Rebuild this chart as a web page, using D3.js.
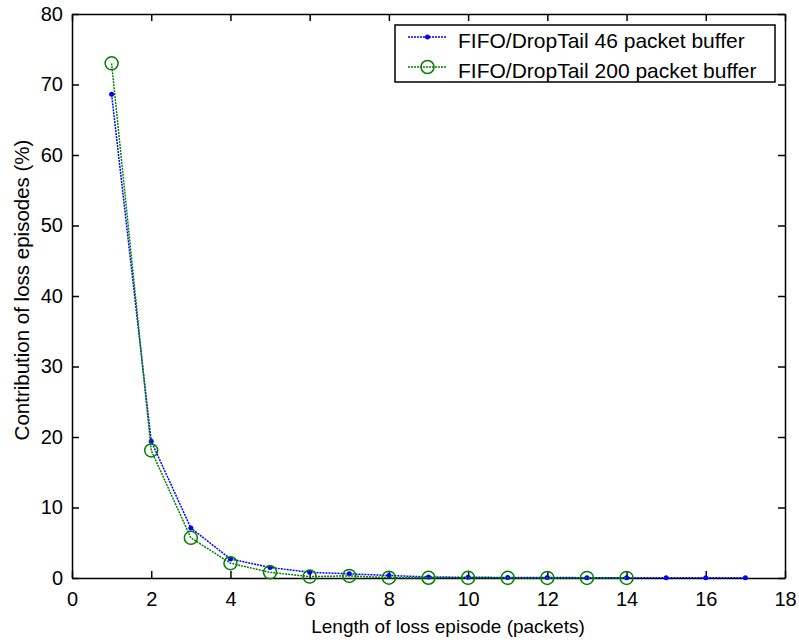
<!DOCTYPE html>
<html><head><meta charset="utf-8">
<script src="https://cdn.jsdelivr.net/npm/d3@7"></script>
<style>body{margin:0;background:#fff}svg{display:block}text{font-family:"Liberation Sans",Arial,sans-serif;fill:#000}</style>
</head><body><svg id="c" width="799" height="644"></svg>
<script>
const xTicks = [0,2,4,6,8,10,12,14,16,18];
const yTicks = [0,10,20,30,40,50,60,70,80];
const lengths46 = [1,2,3,4,5,6,7,8,9,10,11,12,13,14,15,16,17];
const values46 = [68.6,19.4,7.1,2.7,1.5,0.8,0.6,0.35,0.15,0.1,0.08,0.06,0.05,0.04,0.03,0.02,0.02];
const lengths200 = [1,2,3,4,5,6,7,8,9,10,11,12,13,14];
const values200 = [73.0,18.1,5.7,2.1,0.8,0.2,0.3,0.05,0.03,0.02,0.02,0.01,0.01,0.01];
const seriesNames = ["FIFO/DropTail 46 packet buffer","FIFO/DropTail 200 packet buffer"];
const xLabel = "Length of loss episode (packets)";
const yLabel = "Contribution of loss episodes (%)";

const svg = d3.select("#c");
const L=72,R=785,T=14,B=578;
const x = d3.scaleLinear().domain([0,18]).range([L,R]);
const y = d3.scaleLinear().domain([0,80]).range([B,T]);
const tl=7;
const g = svg.append("g");
const ax = g.append("g").attr("transform",`translate(0,${B})`).call(d3.axisBottom(x).tickValues(xTicks).tickSizeInner(-tl).tickSizeOuter(0).tickPadding(14));
const axT = g.append("g").attr("transform",`translate(0,${T})`).call(d3.axisTop(x).tickValues(xTicks).tickSizeInner(-tl).tickSizeOuter(0).tickFormat(""));
const ay = g.append("g").attr("transform",`translate(${L},0)`).call(d3.axisLeft(y).tickValues(yTicks).tickSizeInner(-tl).tickSizeOuter(0).tickPadding(9));
const ayR = g.append("g").attr("transform",`translate(${R},0)`).call(d3.axisRight(y).tickValues(yTicks).tickSizeInner(-tl).tickSizeOuter(0).tickFormat(""));
[ax,axT,ay,ayR].forEach(a=>{a.selectAll("path,line").attr("stroke","#000").attr("stroke-width",1.5);a.selectAll("text").style("font-size","20px").attr("font-family",null);});
ax.selectAll("text").attr("dy","0.71em");

const line = d3.line().x(d=>x(d[0])).y(d=>y(d[1]));
const d46 = lengths46.map((l,i)=>[l,values46[i]]);
const d200 = lengths200.map((l,i)=>[l,values200[i]]);
g.append("path").datum(d46).attr("d",line).attr("fill","none").attr("stroke","#0000ff").attr("stroke-width",1.5).attr("stroke-dasharray","2,1");
g.selectAll(".m46").data(d46).enter().append("circle").attr("cx",d=>x(d[0])).attr("cy",d=>y(d[1])).attr("r",2.5).attr("fill","#0000ff");
g.append("path").datum(d200).attr("d",line).attr("fill","none").attr("stroke","#008000").attr("stroke-width",1.5).attr("stroke-dasharray","2,1");
g.selectAll(".m200").data(d200).enter().append("circle").attr("cx",d=>x(d[0])).attr("cy",d=>y(d[1])).attr("r",6.5).attr("fill","none").attr("stroke","#008000").attr("stroke-width",1.5);

svg.append("text").attr("x",448).attr("y",633).attr("text-anchor","middle").style("font-size","19px").text(xLabel);
svg.append("text").attr("transform",`translate(29,290) rotate(-90)`).attr("text-anchor","middle").style("font-size","20.5px").text(yLabel);

const lg = svg.append("g");
lg.append("rect").attr("x",395).attr("y",25).attr("width",380).attr("height",57).attr("fill","#fff").attr("stroke","#000").attr("stroke-width",1.5);
const ly=[37,67];
const colors=["#0000ff","#008000"];
ly.forEach((yy,i)=>{
  lg.append("line").attr("x1",408).attr("x2",447).attr("y1",yy).attr("y2",yy).attr("stroke",colors[i]).attr("stroke-width",1.5).attr("stroke-dasharray","2,1");
  if(i===0) lg.append("circle").attr("cx",427.5).attr("cy",yy).attr("r",2.5).attr("fill",colors[i]);
  else lg.append("circle").attr("cx",427.5).attr("cy",yy).attr("r",6.5).attr("fill","none").attr("stroke",colors[i]).attr("stroke-width",1.5);
  lg.append("text").attr("x",458).attr("y",yy+10.5).style("font-size","21px").text(seriesNames[i]);
});
</script></body></html>
